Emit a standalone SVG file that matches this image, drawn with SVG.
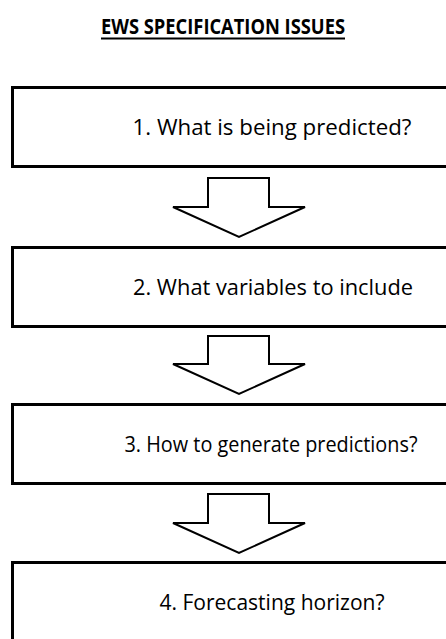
<svg xmlns="http://www.w3.org/2000/svg" width="446" height="639" viewBox="0 0 446 639">
<style>
.box{fill:#fff;stroke:#000;stroke-width:3}
.arr{fill:#fff;stroke:#000;stroke-width:2;stroke-linejoin:miter}
.lbl{font-family:"Open Sans","Noto Sans","Liberation Sans",sans-serif;font-size:21.5px;fill:#000;text-anchor:middle}
.ttl{font-family:"Open Sans","Noto Sans","Liberation Sans",sans-serif;font-size:22px;font-weight:bold;fill:#000}
</style>
<rect width="446" height="639" fill="#fff"/>
<g id="title">
<text class="ttl" x="101" y="34" textLength="244" lengthAdjust="spacingAndGlyphs">EWS SPECIFICATION ISSUES</text>
<line x1="101" y1="38.5" x2="345" y2="38.5" stroke="#000" stroke-width="2"/>
</g>
<g id="node1">
<rect class="box" x="12.5" y="87.5" width="520" height="79"/>
<text class="lbl" x="272" y="135" textLength="279" lengthAdjust="spacingAndGlyphs">1. What is being predicted?</text>
</g>
<g id="node2">
<rect class="box" x="12.5" y="247.5" width="520" height="79"/>
<text class="lbl" x="273" y="295" textLength="280" lengthAdjust="spacingAndGlyphs">2. What variables to include</text>
</g>
<g id="node3">
<rect class="box" x="12.5" y="404.5" width="520" height="79"/>
<text class="lbl" x="271" y="452" textLength="293" lengthAdjust="spacingAndGlyphs">3. How to generate predictions?</text>
</g>
<g id="node4">
<rect class="box" x="12.5" y="562.5" width="520" height="100"/>
<text class="lbl" x="272" y="610" textLength="225" lengthAdjust="spacingAndGlyphs">4. Forecasting horizon?</text>
</g>
<g id="connectors">
<polygon class="arr" points="208,178 269,178 269,207 305,207 239,237 173,207 208,207"/>
<polygon class="arr" points="208,336 269,336 269,364 305,364 239,394 173,364 208,364"/>
<polygon class="arr" points="208,494 269,494 269,523 305,523 239,553 173,523 208,523"/>
</g>
</svg>
